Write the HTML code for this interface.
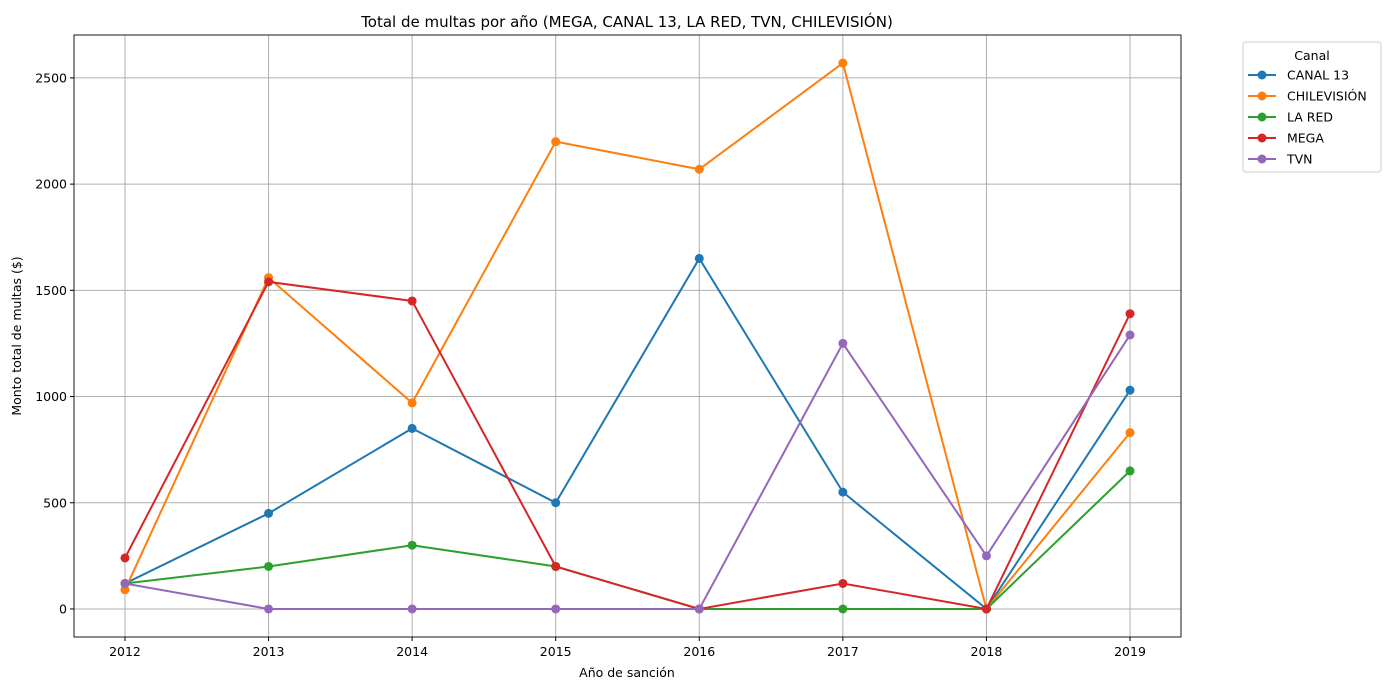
<!DOCTYPE html>
<html><head><meta charset="utf-8"><style>
body{margin:0;background:#fff;font-family:"Liberation Sans","DejaVu Sans",sans-serif;}
svg text{font-family:"DejaVu Sans","Liberation Sans",sans-serif;}
</style></head><body>
<svg id="chart" width="1391" height="690" xmlns="http://www.w3.org/2000/svg"></svg>
<script>
const years = [2012,2013,2014,2015,2016,2017,2018,2019];
const canal13 = [120,450,850,500,1650,550,0,1030];
const chilevision = [90,1560,970,2200,2070,2570,0,830];
const lared = [120,200,300,200,0,0,0,650];
const mega = [240,1540,1450,200,0,120,0,1390];
const tvn = [120,0,0,0,0,1250,250,1290];
const yTicks = [0,500,1000,1500,2000,2500];
const seriesNames = ["CANAL 13","CHILEVISIÓN","LA RED","MEGA","TVN"];
const seriesData = [canal13,chilevision,lared,mega,tvn];
const colors = ["#1f77b4","#ff7f0e","#2ca02c","#d62728","#9467bd"];

const svg = document.getElementById('chart');
const NS = "http://www.w3.org/2000/svg";
const L=74,R=1181,T=35,B=637;
const xMin=2011.645,xMax=2019.355,yMin=-132,yMax=2702;
const xs = v => L+(v-xMin)/(xMax-xMin)*(R-L);
const ys = v => B-(v-yMin)/(yMax-yMin)*(B-T);
function el(tag,attrs,parent){const e=document.createElementNS(NS,tag);for(const k in attrs)e.setAttribute(k,attrs[k]);(parent||svg).appendChild(e);return e;}
function txt(s,attrs){const e=el('text',attrs);e.textContent=s;return e;}

years.forEach(y=>{const g=el('line',{x1:xs(y),x2:xs(y),y1:T,y2:B,stroke:'#b0b0b0','stroke-width':1});

});
yTicks.forEach(v=>{const g=el('line',{x1:L,x2:R,y1:ys(v),y2:ys(v),stroke:'#b0b0b0','stroke-width':1});

});
years.forEach(y=>{el('line',{x1:xs(y),x2:xs(y),y1:B,y2:B+4,stroke:'#000'});
const t=txt(String(y),{x:xs(y),y:B+19,'text-anchor':'middle','font-size':12.5});

});
yTicks.forEach(v=>{el('line',{x1:L-4,x2:L,y1:ys(v),y2:ys(v),stroke:'#000'});
const t=txt(String(v),{x:L-7,y:ys(v)+4.5,'text-anchor':'end','font-size':12.5});

});
seriesData.forEach((d,i)=>{
  const p=el('polyline',{points:d.map((v,j)=>xs(years[j])+','+ys(v)).join(' '),fill:'none',stroke:colors[i],'stroke-width':2});
  
  
  d.forEach((v,j)=>{const c=el('circle',{cx:xs(years[j]),cy:ys(v),r:4.5,fill:colors[i]});
  
  });
});
const frame=el('rect',{x:L,y:T,width:R-L,height:B-T,fill:'none',stroke:'#000','stroke-width':0.9});


let t=txt('Total de multas por año (MEGA, CANAL 13, LA RED, TVN, CHILEVISIÓN)',{x:627,y:27,'text-anchor':'middle','font-size':15});


t=txt('Año de sanción',{x:627,y:677,'text-anchor':'middle','font-size':12.5});


t=txt('Monto total de multas ($)',{x:21,y:336,'text-anchor':'middle','font-size':12.5,transform:'rotate(-90 21 336)'});


const lg=el('rect',{x:1243,y:42,width:138,height:130,rx:3,fill:'#fff',stroke:'#ccc'});


t=txt('Canal',{x:1312,y:60,'text-anchor':'middle','font-size':12.5});


seriesNames.forEach((n,i)=>{const y=75+i*21;
 el('line',{x1:1248,x2:1276,y1:y,y2:y,stroke:colors[i],'stroke-width':2});
 el('circle',{cx:1262,cy:y,r:4.5,fill:colors[i]});
 const e=txt(n,{x:1287,y:y+4.5,'font-size':12.5});
 
 });
</script>
</body></html>
